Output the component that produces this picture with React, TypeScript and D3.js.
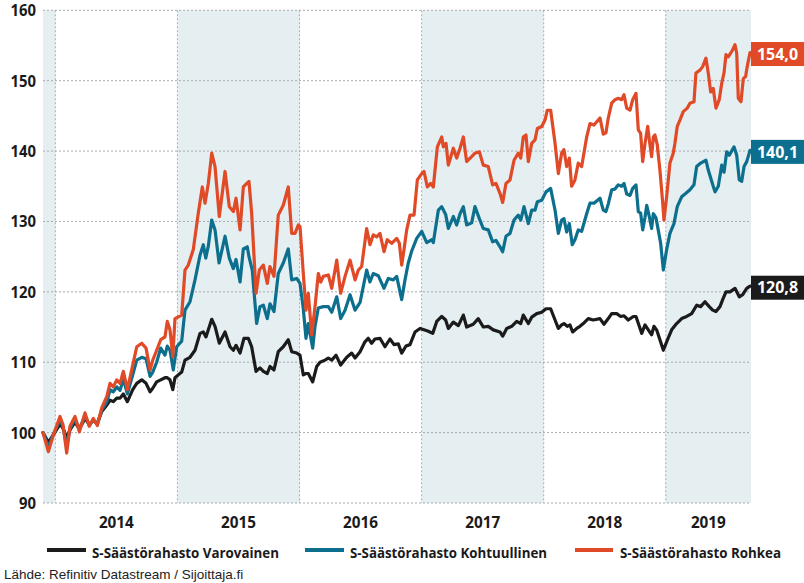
import React from "react";
import * as d3 from "d3";

// Data: [decimal year, index value]
const varovainen: [number, number][] = [[2013.899,100.0],[2013.943,98.6],[2013.981,99.6],[2014.038,101.2],[2014.063,100.6],[2014.093,99.3],[2014.120,100.4],[2014.161,101.5],[2014.197,100.5],[2014.243,102.0],[2014.278,101.2],[2014.311,101.7],[2014.344,101.3],[2014.380,103.0],[2014.421,103.9],[2014.448,104.6],[2014.475,104.4],[2014.503,104.9],[2014.530,104.9],[2014.557,105.5],[2014.590,104.4],[2014.634,106.1],[2014.667,107.0],[2014.708,107.5],[2014.743,107.0],[2014.776,105.8],[2014.798,106.3],[2014.830,107.2],[2014.863,107.5],[2014.898,107.8],[2014.917,107.8],[2014.939,107.5],[2014.962,106.1],[2014.980,107.8],[2015.007,108.2],[2015.035,108.6],[2015.062,110.3],[2015.103,110.7],[2015.144,111.7],[2015.185,114.1],[2015.212,114.3],[2015.234,113.6],[2015.281,116.1],[2015.308,115.1],[2015.343,112.7],[2015.390,114.3],[2015.431,112.2],[2015.458,111.7],[2015.480,112.4],[2015.513,111.3],[2015.545,113.4],[2015.581,113.4],[2015.608,112.2],[2015.644,108.7],[2015.676,109.2],[2015.704,108.7],[2015.736,108.4],[2015.758,109.4],[2015.791,108.9],[2015.826,111.5],[2015.867,112.2],[2015.908,113.2],[2015.936,111.5],[2015.977,111.3],[2016.004,111.0],[2016.031,108.2],[2016.053,108.4],[2016.072,108.4],[2016.108,107.2],[2016.141,109.4],[2016.168,110.0],[2016.209,110.3],[2016.236,110.6],[2016.264,110.3],[2016.299,111.0],[2016.337,109.6],[2016.387,110.7],[2016.428,111.3],[2016.455,110.6],[2016.496,111.5],[2016.536,112.9],[2016.563,113.4],[2016.591,112.7],[2016.618,113.3],[2016.659,113.4],[2016.700,112.2],[2016.741,113.3],[2016.774,112.5],[2016.809,112.6],[2016.837,111.3],[2016.872,112.3],[2016.905,112.5],[2016.946,114.3],[2016.987,114.8],[2017.020,114.6],[2017.055,114.4],[2017.091,114.1],[2017.124,115.8],[2017.165,116.5],[2017.197,116.0],[2017.219,114.8],[2017.260,115.7],[2017.301,115.2],[2017.342,116.7],[2017.369,115.0],[2017.423,115.4],[2017.464,116.2],[2017.505,115.0],[2017.546,115.1],[2017.587,114.6],[2017.642,114.3],[2017.664,113.7],[2017.697,114.8],[2017.738,115.1],[2017.779,115.8],[2017.812,115.5],[2017.833,116.7],[2017.874,115.5],[2017.902,116.4],[2017.943,116.9],[2017.984,117.1],[2018.019,117.6],[2018.057,117.6],[2018.093,116.0],[2018.120,114.8],[2018.147,115.3],[2018.166,115.5],[2018.193,115.1],[2018.215,115.3],[2018.237,114.3],[2018.270,114.8],[2018.297,115.1],[2018.324,115.5],[2018.365,116.2],[2018.406,116.0],[2018.461,116.2],[2018.494,115.4],[2018.529,116.2],[2018.557,116.9],[2018.598,116.9],[2018.631,116.5],[2018.658,116.6],[2018.693,116.0],[2018.734,116.5],[2018.756,116.5],[2018.783,115.1],[2018.803,114.1],[2018.830,115.3],[2018.857,114.6],[2018.884,113.9],[2018.903,115.1],[2018.925,114.6],[2018.952,113.2],[2018.980,111.7],[2019.007,112.9],[2019.048,114.6],[2019.089,115.5],[2019.130,116.2],[2019.171,116.5],[2019.212,116.9],[2019.253,118.1],[2019.286,117.9],[2019.321,118.6],[2019.356,117.9],[2019.384,117.4],[2019.411,117.2],[2019.444,117.9],[2019.466,118.9],[2019.493,120.0],[2019.526,120.0],[2019.567,120.5],[2019.602,119.3],[2019.630,119.6],[2019.663,120.5],[2019.690,120.8]];

const kohtuullinen: [number, number][] = [[2013.899,100.0],[2013.943,98.0],[2013.981,99.6],[2014.038,101.8],[2014.063,100.8],[2014.093,98.0],[2014.120,100.5],[2014.161,102.0],[2014.197,100.5],[2014.243,102.4],[2014.278,101.0],[2014.311,101.8],[2014.344,101.2],[2014.380,103.2],[2014.421,104.3],[2014.448,106.1],[2014.475,105.8],[2014.503,106.5],[2014.530,106.0],[2014.557,107.6],[2014.590,105.5],[2014.634,108.2],[2014.667,110.3],[2014.708,110.7],[2014.743,110.5],[2014.776,108.0],[2014.798,108.6],[2014.830,110.0],[2014.863,112.0],[2014.898,111.0],[2014.917,112.3],[2014.939,111.7],[2014.966,108.9],[2014.994,112.2],[2015.035,113.0],[2015.062,117.4],[2015.103,118.6],[2015.144,121.7],[2015.185,125.2],[2015.212,126.7],[2015.232,124.8],[2015.253,126.5],[2015.281,130.2],[2015.308,128.8],[2015.341,124.1],[2015.390,127.9],[2015.425,124.8],[2015.458,123.3],[2015.480,124.6],[2015.513,121.4],[2015.540,126.1],[2015.572,126.4],[2015.586,125.0],[2015.613,123.1],[2015.649,115.5],[2015.676,117.9],[2015.704,118.1],[2015.736,116.2],[2015.758,118.3],[2015.791,117.2],[2015.826,122.6],[2015.867,124.1],[2015.908,126.1],[2015.936,121.7],[2015.977,121.9],[2016.004,121.2],[2016.031,117.6],[2016.053,113.4],[2016.072,115.5],[2016.108,112.0],[2016.127,115.1],[2016.154,117.7],[2016.195,117.9],[2016.236,117.9],[2016.264,117.1],[2016.305,119.3],[2016.337,116.2],[2016.373,117.4],[2016.414,119.6],[2016.455,117.4],[2016.496,118.5],[2016.550,123.1],[2016.577,121.4],[2016.604,122.6],[2016.645,122.3],[2016.692,120.5],[2016.727,121.9],[2016.768,121.7],[2016.796,122.2],[2016.837,118.9],[2016.864,121.7],[2016.891,124.1],[2016.919,125.8],[2016.960,127.6],[2017.001,128.6],[2017.042,127.0],[2017.083,127.4],[2017.096,127.0],[2017.137,131.6],[2017.165,132.1],[2017.197,131.0],[2017.219,129.0],[2017.260,130.7],[2017.287,129.5],[2017.315,131.1],[2017.342,132.1],[2017.369,129.5],[2017.410,129.8],[2017.437,132.1],[2017.473,130.4],[2017.505,129.0],[2017.546,128.8],[2017.582,127.1],[2017.609,127.3],[2017.642,126.4],[2017.664,125.7],[2017.691,127.9],[2017.724,128.3],[2017.757,130.2],[2017.792,130.9],[2017.812,130.2],[2017.839,132.1],[2017.874,129.7],[2017.902,131.6],[2017.929,131.6],[2017.948,132.8],[2017.984,133.0],[2018.019,134.2],[2018.057,134.7],[2018.093,131.6],[2018.120,128.3],[2018.147,130.2],[2018.166,130.4],[2018.188,128.5],[2018.210,129.7],[2018.234,126.7],[2018.256,127.4],[2018.283,128.8],[2018.311,128.6],[2018.352,131.1],[2018.379,132.6],[2018.412,132.6],[2018.461,133.3],[2018.488,131.6],[2018.510,131.4],[2018.529,132.5],[2018.557,134.5],[2018.584,134.6],[2018.611,135.2],[2018.639,135.0],[2018.658,135.4],[2018.680,133.9],[2018.707,133.7],[2018.729,134.7],[2018.756,135.2],[2018.775,131.4],[2018.794,131.2],[2018.811,128.8],[2018.830,130.6],[2018.844,132.3],[2018.865,130.7],[2018.884,129.0],[2018.898,131.1],[2018.920,130.5],[2018.938,128.8],[2018.958,126.9],[2018.980,123.1],[2019.007,126.0],[2019.034,128.3],[2019.067,129.7],[2019.094,132.1],[2019.130,133.5],[2019.165,134.0],[2019.198,134.5],[2019.231,135.2],[2019.253,137.8],[2019.286,138.3],[2019.329,138.7],[2019.348,137.3],[2019.376,135.7],[2019.403,134.2],[2019.430,135.0],[2019.458,138.0],[2019.477,137.0],[2019.499,139.9],[2019.520,139.4],[2019.559,140.6],[2019.581,139.4],[2019.602,135.9],[2019.622,135.7],[2019.641,137.8],[2019.663,138.5],[2019.690,140.1]];

const rohkea: [number, number][] = [[2013.899,100.0],[2013.943,97.3],[2013.981,99.5],[2014.038,102.3],[2014.063,101.1],[2014.093,97.1],[2014.120,100.9],[2014.161,102.3],[2014.197,100.1],[2014.243,102.8],[2014.278,100.9],[2014.311,102.0],[2014.344,101.0],[2014.380,103.5],[2014.421,105.1],[2014.448,107.0],[2014.475,106.5],[2014.503,107.5],[2014.530,107.0],[2014.557,108.7],[2014.590,106.1],[2014.634,109.6],[2014.667,112.2],[2014.708,112.7],[2014.743,112.0],[2014.776,108.9],[2014.798,110.3],[2014.830,111.7],[2014.863,113.2],[2014.898,113.6],[2014.917,115.8],[2014.939,114.6],[2014.962,110.8],[2014.980,116.2],[2015.035,116.7],[2015.062,123.1],[2015.089,123.8],[2015.130,126.0],[2015.171,131.2],[2015.204,134.9],[2015.226,132.6],[2015.253,135.4],[2015.281,139.7],[2015.308,137.8],[2015.343,130.7],[2015.390,137.1],[2015.425,132.1],[2015.458,131.4],[2015.480,133.3],[2015.513,128.8],[2015.540,134.9],[2015.568,135.4],[2015.586,135.7],[2015.608,131.2],[2015.644,119.8],[2015.671,123.1],[2015.704,123.8],[2015.736,121.2],[2015.758,123.6],[2015.791,122.2],[2015.826,130.9],[2015.867,132.3],[2015.908,134.9],[2015.936,128.3],[2015.963,128.3],[2015.990,129.5],[2016.004,129.3],[2016.031,122.6],[2016.053,117.4],[2016.072,119.8],[2016.100,113.9],[2016.127,117.9],[2016.154,122.6],[2016.174,121.4],[2016.195,122.2],[2016.236,122.4],[2016.264,120.5],[2016.305,124.5],[2016.337,119.8],[2016.373,122.2],[2016.414,124.5],[2016.455,121.7],[2016.482,123.1],[2016.509,123.6],[2016.550,129.0],[2016.577,126.7],[2016.604,128.1],[2016.632,127.8],[2016.659,128.3],[2016.692,125.7],[2016.719,127.4],[2016.755,126.9],[2016.796,127.6],[2016.818,126.9],[2016.837,123.8],[2016.856,126.0],[2016.878,128.8],[2016.905,130.9],[2016.938,130.9],[2016.965,135.9],[2017.001,136.8],[2017.020,137.1],[2017.047,134.9],[2017.074,135.4],[2017.096,134.9],[2017.129,140.6],[2017.165,142.0],[2017.178,140.6],[2017.200,141.1],[2017.219,138.0],[2017.260,140.4],[2017.287,139.0],[2017.315,140.4],[2017.342,142.0],[2017.369,138.5],[2017.410,139.2],[2017.437,139.7],[2017.473,139.9],[2017.505,138.0],[2017.546,137.8],[2017.582,135.2],[2017.609,135.4],[2017.642,134.0],[2017.664,132.7],[2017.691,135.4],[2017.724,135.9],[2017.757,138.7],[2017.792,139.7],[2017.812,139.0],[2017.833,142.0],[2017.855,142.3],[2017.874,138.5],[2017.902,141.1],[2017.929,141.6],[2017.948,143.2],[2017.984,143.5],[2018.011,144.4],[2018.029,145.8],[2018.057,145.8],[2018.093,141.1],[2018.120,136.8],[2018.147,139.7],[2018.166,140.2],[2018.188,137.8],[2018.210,139.0],[2018.229,135.0],[2018.256,135.9],[2018.283,138.3],[2018.311,137.8],[2018.352,142.0],[2018.379,143.9],[2018.412,143.7],[2018.461,144.7],[2018.488,142.4],[2018.510,142.6],[2018.529,144.7],[2018.557,146.8],[2018.584,147.3],[2018.611,147.5],[2018.639,147.3],[2018.658,148.0],[2018.680,146.1],[2018.707,145.8],[2018.729,147.3],[2018.756,148.2],[2018.775,143.0],[2018.794,142.5],[2018.811,138.5],[2018.830,141.1],[2018.852,143.5],[2018.865,141.6],[2018.884,139.2],[2018.898,142.0],[2018.911,142.3],[2018.930,140.9],[2018.952,137.3],[2018.975,132.6],[2018.985,130.2],[2019.007,133.5],[2019.034,138.3],[2019.061,139.7],[2019.075,141.1],[2019.094,143.5],[2019.116,144.4],[2019.143,145.6],[2019.176,146.1],[2019.198,146.8],[2019.231,147.0],[2019.247,151.1],[2019.280,151.5],[2019.302,152.0],[2019.329,153.2],[2019.348,151.1],[2019.368,148.4],[2019.389,148.9],[2019.411,146.1],[2019.438,147.3],[2019.458,149.6],[2019.477,151.1],[2019.493,153.7],[2019.512,153.4],[2019.531,153.9],[2019.548,154.4],[2019.567,155.1],[2019.581,153.9],[2019.594,147.5],[2019.616,147.0],[2019.635,150.3],[2019.654,150.6],[2019.667,152.0],[2019.690,154.0]];

const seriesNames = ["S-Säästörahasto Varovainen", "S-Säästörahasto Kohtuullinen", "S-Säästörahasto Rohkea"];
const seriesColors = ["#1b1b1b", "#0c6f8e", "#e04a27"];
const yTicks = [90, 100, 110, 120, 130, 140, 150, 160];
const yearLabels = [2014, 2015, 2016, 2017, 2018, 2019];
const shadedYears = [2013, 2015, 2017, 2019];
const xDomain: [number, number] = [2013.899, 2019.698];
const sourceText = "Lähde: Refinitiv Datastream / Sijoittaja.fi";

const W = 804, H = 583;
const L = 43, R = 751, T = 10.3, B = 503;
const boldFont = "'Open Sans', 'DejaVu Sans', sans-serif";

// legend layout: [line start, line end, text start, text width]
const legendLayout = [
  [47, 86, 92, 187],
  [305, 344, 350, 197],
  [575, 613, 620, 161],
];

export default function App() {
  const x = d3.scaleLinear().domain(xDomain).range([L, R]);
  const y = d3.scaleLinear().domain([90, 160]).range([B, T]);
  const line = d3.line<[number, number]>().x(d => x(d[0])).y(d => y(d[1]));
  const all = [varovainen, kohtuullinen, rohkea];
  const fmt = (v: number) => v.toFixed(1).replace(".", ",");

  return (
    <svg width={W} height={H} style={{ position: "absolute", left: 0, top: 0, background: "#fff" }}>
      {shadedYears.map(yr => {
        const a = Math.max(yr, xDomain[0]);
        const b = Math.min(yr + 1, xDomain[1]);
        return <rect key={yr} x={x(a)} y={T} width={x(b) - x(a)} height={B - T} fill="#e5eef1" />;
      })}
      {yTicks.map(t => (
        <line key={t} x1={L} x2={R} y1={y(t)} y2={y(t)} stroke="#a6acaf" strokeWidth={1} strokeDasharray="2,2" />
      ))}
      {yearLabels.map(yr => (
        <line key={yr} x1={x(yr)} x2={x(yr)} y1={T} y2={B} stroke="#a6acaf" strokeWidth={1} strokeDasharray="2,2" />
      ))}
      {yTicks.map(t => (
        <text key={t} x={36} y={y(t)} dy="0.36em" textAnchor="end" fontFamily={boldFont} fontWeight="bold" fontSize={16.5}
          textLength={String(t).length * 8.5} lengthAdjust="spacingAndGlyphs" fill="#1a1a1a">{t}</text>
      ))}
      {yearLabels.map(yr => {
        const a = Math.max(yr, xDomain[0]);
        const b = Math.min(yr + 1, xDomain[1]);
        return (
          <text key={yr} x={(x(a) + x(b)) / 2} y={528} textAnchor="middle" fontFamily={boldFont} fontWeight="bold" fontSize={16.5}
            textLength={35} lengthAdjust="spacingAndGlyphs" fill="#1a1a1a">{yr}</text>
        );
      })}
      {all.map((s, i) => (
        <path key={i} d={line(s) || ""} fill="none" stroke={seriesColors[i]} strokeWidth={3.2} strokeLinejoin="round" strokeLinecap="round" />
      ))}
      {all.map((s, i) => {
        const last = s[s.length - 1];
        const cy = y(last[1]) + 1.5;
        return (
          <g key={i}>
            <rect x={R} y={cy - 12} width={W - R} height={24} fill={seriesColors[i]} />
            <text x={R + (W - R) / 2} y={cy} dy="0.36em" textAnchor="middle" fontFamily={boldFont} fontWeight="bold" fontSize={16}
              textLength={41} lengthAdjust="spacingAndGlyphs" fill="#fff">{fmt(last[1])}</text>
          </g>
        );
      })}
      {seriesNames.map((n, i) => {
        const [l1, l2, tx, tw] = legendLayout[i];
        return (
          <g key={n}>
            <line x1={l1} x2={l2} y1={550} y2={550} stroke={seriesColors[i]} strokeWidth={4} />
            <text x={tx} y={558} fontFamily={boldFont} fontWeight="bold" fontSize={15} textLength={tw} lengthAdjust="spacingAndGlyphs" fill="#1a1a1a">{n}</text>
          </g>
        );
      })}
      <text x={4} y={579} fontFamily="'Liberation Sans', Arial, sans-serif" fontSize={13.5} fill="#222">{sourceText}</text>
    </svg>
  );
}
